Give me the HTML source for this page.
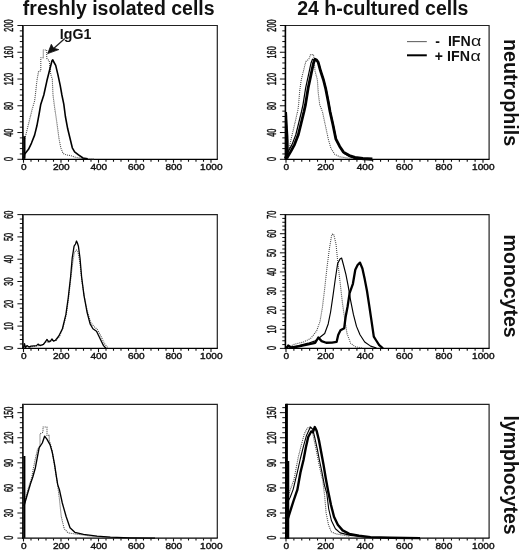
<!DOCTYPE html>
<html lang="en"><head><meta charset="utf-8"><title>IFN alpha histograms</title>
<style>html,body{margin:0;padding:0;background:#fff}svg{display:block}</style></head>
<body>
<svg width="520" height="552" viewBox="0 0 520 552" font-family='"Liberation Sans", Arial, sans-serif'>
<rect width="520" height="552" fill="#fff"/>
<g>
<path d="M23.5 25.5H217.3V159.3" fill="none" stroke="#222" stroke-width="1.2"/>
<path d="M23 159.3h-5.6M23 153.95h-3.2M23 148.6h-3.2M23 143.24h-3.2M23 137.89h-3.2M23 132.54h-5.6M23 127.19h-3.2M23 121.84h-3.2M23 116.48h-3.2M23 111.13h-3.2M23 105.78h-5.6M23 100.43h-3.2M23 95.08h-3.2M23 89.72h-3.2M23 84.37h-3.2M23 79.02h-5.6M23 73.67h-3.2M23 68.32h-3.2M23 62.96h-3.2M23 57.61h-3.2M23 52.26h-5.6M23 46.91h-3.2M23 41.56h-3.2M23 36.2h-3.2M23 30.85h-3.2M23 25.5h-5.6" fill="none" stroke="#111" stroke-width="1.0"/>
<path d="M23.5 159.6v3.2M31 159.6v2.1M38.5 159.6v2.1M46 159.6v2.1M53.5 159.6v2.1M61 159.6v3.2M68.5 159.6v2.1M76 159.6v2.1M83.5 159.6v2.1M91 159.6v2.1M98.5 159.6v3.2M106 159.6v2.1M113.5 159.6v2.1M121 159.6v2.1M128.5 159.6v2.1M136 159.6v3.2M143.5 159.6v2.1M151 159.6v2.1M158.5 159.6v2.1M166 159.6v2.1M173.5 159.6v3.2M181 159.6v2.1M188.5 159.6v2.1M196 159.6v2.1M203.5 159.6v2.1M211 159.6v3.2" fill="none" stroke="#111" stroke-width="1.1"/>
<path d="M22.9 25V160" fill="none" stroke="#000" stroke-width="1.6"/>
<path d="M22.2 159.3H217.8" fill="none" stroke="#000" stroke-width="1.15"/>
<text transform="translate(23.8 170.2) scale(1.2 1)" text-anchor="middle" font-size="8.4" fill="#111" stroke="#111" stroke-width="0.38">0</text>
<text transform="translate(61.3 170.2) scale(1.2 1)" text-anchor="middle" font-size="8.4" fill="#111" stroke="#111" stroke-width="0.38">200</text>
<text transform="translate(98.8 170.2) scale(1.2 1)" text-anchor="middle" font-size="8.4" fill="#111" stroke="#111" stroke-width="0.38">400</text>
<text transform="translate(136.3 170.2) scale(1.2 1)" text-anchor="middle" font-size="8.4" fill="#111" stroke="#111" stroke-width="0.38">600</text>
<text transform="translate(173.8 170.2) scale(1.2 1)" text-anchor="middle" font-size="8.4" fill="#111" stroke="#111" stroke-width="0.38">800</text>
<text transform="translate(211.3 170.2) scale(1.2 1)" text-anchor="middle" font-size="8.4" fill="#111" stroke="#111" stroke-width="0.38">1000</text>
<text transform="translate(13.1 159) rotate(-90) scale(0.91 1.5)" text-anchor="middle" font-size="8" fill="#111" stroke="#111" stroke-width="0.32">0</text>
<text transform="translate(13.1 132.64) rotate(-90) scale(0.91 1.5)" text-anchor="middle" font-size="8" fill="#111" stroke="#111" stroke-width="0.32">40</text>
<text transform="translate(13.1 105.88) rotate(-90) scale(0.91 1.5)" text-anchor="middle" font-size="8" fill="#111" stroke="#111" stroke-width="0.32">80</text>
<text transform="translate(13.1 79.12) rotate(-90) scale(0.91 1.5)" text-anchor="middle" font-size="8" fill="#111" stroke="#111" stroke-width="0.32">120</text>
<text transform="translate(13.1 52.36) rotate(-90) scale(0.91 1.5)" text-anchor="middle" font-size="8" fill="#111" stroke="#111" stroke-width="0.32">160</text>
<text transform="translate(13.1 25.6) rotate(-90) scale(0.91 1.5)" text-anchor="middle" font-size="8" fill="#111" stroke="#111" stroke-width="0.32">200</text>
<path d="M24 158.7L24.3 139.89L25.4 136.7L27.7 127.3L30 118L32.3 108.8L34.6 101L35.4 94.6L36.9 80.8L38.5 71.5L40.8 70.8L40.8 57.7L43.3 57.7L43.3 50L46.7 50L46.7 58.2L49.2 60.8L50.8 74.6L52.3 79L53 95L54.6 107.3L56.2 118L57.7 128.8L59.2 139.89L60.8 147.8L63 153.36L66.2 154.9L70.8 155.7L75.4 157.2L81.5 158.5L93.8 158.9" fill="none" stroke="#484848" stroke-width="1.1" stroke-dasharray="1 1" stroke-linejoin="round"/>
<path d="M24 158.7L24.6 154.18L28.5 149.35L31.5 143.08L34.6 135.16L36.9 125.8L39.2 113.5L40.8 104.2L43.8 95L46.9 80.8L50 68.5L52 60.8L52.8 59.8L53.8 62L55.7 65.4L57.9 74.6L60.2 85.4L61.9 95L63.8 104.2L65.4 116.5L67.7 128.8L70 138.24L72.3 147.8L74.6 151.81L78.5 154.9L83 158L87.7 158.9" fill="none" stroke="#000" stroke-width="1.6" stroke-linejoin="round"/>
<path d="M24.4 136.19L24.4 158.7" fill="none" stroke="#000" stroke-width="2.2" stroke-linejoin="round"/>
</g>
<g>
<path d="M286 25.5H489.1V159.3" fill="none" stroke="#222" stroke-width="1.2"/>
<path d="M285.5 159.3h-5.6M285.5 153.95h-3.2M285.5 148.6h-3.2M285.5 143.24h-3.2M285.5 137.89h-3.2M285.5 132.54h-5.6M285.5 127.19h-3.2M285.5 121.84h-3.2M285.5 116.48h-3.2M285.5 111.13h-3.2M285.5 105.78h-5.6M285.5 100.43h-3.2M285.5 95.08h-3.2M285.5 89.72h-3.2M285.5 84.37h-3.2M285.5 79.02h-5.6M285.5 73.67h-3.2M285.5 68.32h-3.2M285.5 62.96h-3.2M285.5 57.61h-3.2M285.5 52.26h-5.6M285.5 46.91h-3.2M285.5 41.56h-3.2M285.5 36.2h-3.2M285.5 30.85h-3.2M285.5 25.5h-5.6" fill="none" stroke="#111" stroke-width="1.0"/>
<path d="M286 159.6v3.2M293.88 159.6v2.1M301.76 159.6v2.1M309.64 159.6v2.1M317.52 159.6v2.1M325.4 159.6v3.2M333.28 159.6v2.1M341.16 159.6v2.1M349.04 159.6v2.1M356.92 159.6v2.1M364.8 159.6v3.2M372.68 159.6v2.1M380.56 159.6v2.1M388.44 159.6v2.1M396.32 159.6v2.1M404.2 159.6v3.2M412.08 159.6v2.1M419.96 159.6v2.1M427.84 159.6v2.1M435.72 159.6v2.1M443.6 159.6v3.2M451.48 159.6v2.1M459.36 159.6v2.1M467.24 159.6v2.1M475.12 159.6v2.1M483 159.6v3.2" fill="none" stroke="#111" stroke-width="1.1"/>
<path d="M285.4 25V160" fill="none" stroke="#000" stroke-width="1.6"/>
<path d="M284.7 159.3H489.6" fill="none" stroke="#000" stroke-width="1.15"/>
<text transform="translate(286.3 170.2) scale(1.2 1)" text-anchor="middle" font-size="8.4" fill="#111" stroke="#111" stroke-width="0.38">0</text>
<text transform="translate(325.7 170.2) scale(1.2 1)" text-anchor="middle" font-size="8.4" fill="#111" stroke="#111" stroke-width="0.38">200</text>
<text transform="translate(365.1 170.2) scale(1.2 1)" text-anchor="middle" font-size="8.4" fill="#111" stroke="#111" stroke-width="0.38">400</text>
<text transform="translate(404.5 170.2) scale(1.2 1)" text-anchor="middle" font-size="8.4" fill="#111" stroke="#111" stroke-width="0.38">600</text>
<text transform="translate(443.9 170.2) scale(1.2 1)" text-anchor="middle" font-size="8.4" fill="#111" stroke="#111" stroke-width="0.38">800</text>
<text transform="translate(483.3 170.2) scale(1.2 1)" text-anchor="middle" font-size="8.4" fill="#111" stroke="#111" stroke-width="0.38">1000</text>
<text transform="translate(276.2 159) rotate(-90) scale(0.91 1.5)" text-anchor="middle" font-size="8" fill="#111" stroke="#111" stroke-width="0.32">0</text>
<text transform="translate(276.2 132.64) rotate(-90) scale(0.91 1.5)" text-anchor="middle" font-size="8" fill="#111" stroke="#111" stroke-width="0.32">40</text>
<text transform="translate(276.2 105.88) rotate(-90) scale(0.91 1.5)" text-anchor="middle" font-size="8" fill="#111" stroke="#111" stroke-width="0.32">80</text>
<text transform="translate(276.2 79.12) rotate(-90) scale(0.91 1.5)" text-anchor="middle" font-size="8" fill="#111" stroke="#111" stroke-width="0.32">120</text>
<text transform="translate(276.2 52.36) rotate(-90) scale(0.91 1.5)" text-anchor="middle" font-size="8" fill="#111" stroke="#111" stroke-width="0.32">160</text>
<text transform="translate(276.2 25.6) rotate(-90) scale(0.91 1.5)" text-anchor="middle" font-size="8" fill="#111" stroke="#111" stroke-width="0.32">200</text>
<path d="M287.5 157.7L290.7 140.71L292.6 132.8L295.4 121L298 109.6L298.6 104.6L299.7 90.8L301.2 80L303.5 70.8L305.8 61.5L308.9 59.2L310.5 54.6L313.5 54.6L314.2 60L315 70.8L317.4 80L318.2 92.3L319.7 104.6L322.4 111.5L325.3 125L328.2 138.76L331 148.52L334.9 154.49L339.7 156.7L347.4 158L360 158.7" fill="none" stroke="#484848" stroke-width="1.1" stroke-dasharray="1 1" stroke-linejoin="round"/>
<path d="M284.5 158.2L285.3 156.5L288.2 151.61L292 144.62L295.8 134.75L298.7 123L301.5 111.5L303 104.6L305.7 87.7L308.7 73.8L311 63L312.5 59.2L317.2 61.2L318.8 63.5L321.1 72L324.1 81.2L326.4 90.4L328.8 102.7L330.6 112.7L333.6 126.2L336.4 139.99L340.3 147.7L344.1 153.36L349.9 156.7L355.6 158.6L363.4 159.6L373 160.1" fill="none" stroke="#000" stroke-width="1.2" stroke-linejoin="round"/>
<path d="M287 158.2L287.8 156.5L290.7 151.61L294.5 144.62L298.3 134.75L301.2 123L304 111.5L305.5 104.6L308.2 87.7L311.2 73.8L313.5 63L315 59.2L316.6 60L318.2 62.3L320.5 70.8L323.5 80L325.8 89.2L328.2 101.5L330 111.5L333 125L335.8 138.76L339.7 146.47L343.5 152.12L349.3 155.5L355 157.4L362.8 158.4L372.4 158.9" fill="none" stroke="#000" stroke-width="2.8" stroke-linejoin="round"/>
<path d="M285.6 112L287 112L288.6 140.3L288.8 154.69L287.5 159.7L285.6 159.7Z" fill="#000"/>
</g>
<g>
<path d="M23.5 214.6H217.3V348.4" fill="none" stroke="#222" stroke-width="1.2"/>
<path d="M23 348.4h-5.6M23 343.94h-3.2M23 339.48h-3.2M23 335.02h-3.2M23 330.56h-3.2M23 326.1h-5.6M23 321.64h-3.2M23 317.18h-3.2M23 312.72h-3.2M23 308.26h-3.2M23 303.8h-5.6M23 299.34h-3.2M23 294.88h-3.2M23 290.42h-3.2M23 285.96h-3.2M23 281.5h-5.6M23 277.04h-3.2M23 272.58h-3.2M23 268.12h-3.2M23 263.66h-3.2M23 259.2h-5.6M23 254.74h-3.2M23 250.28h-3.2M23 245.82h-3.2M23 241.36h-3.2M23 236.9h-5.6M23 232.44h-3.2M23 227.98h-3.2M23 223.52h-3.2M23 219.06h-3.2M23 214.6h-5.6" fill="none" stroke="#111" stroke-width="1.0"/>
<path d="M23.5 348.7v3.2M31 348.7v2.1M38.5 348.7v2.1M46 348.7v2.1M53.5 348.7v2.1M61 348.7v3.2M68.5 348.7v2.1M76 348.7v2.1M83.5 348.7v2.1M91 348.7v2.1M98.5 348.7v3.2M106 348.7v2.1M113.5 348.7v2.1M121 348.7v2.1M128.5 348.7v2.1M136 348.7v3.2M143.5 348.7v2.1M151 348.7v2.1M158.5 348.7v2.1M166 348.7v2.1M173.5 348.7v3.2M181 348.7v2.1M188.5 348.7v2.1M196 348.7v2.1M203.5 348.7v2.1M211 348.7v3.2" fill="none" stroke="#111" stroke-width="1.1"/>
<path d="M22.9 214.1V349.1" fill="none" stroke="#000" stroke-width="1.6"/>
<path d="M22.2 348.4H217.8" fill="none" stroke="#000" stroke-width="1.15"/>
<text transform="translate(23.8 359.3) scale(1.2 1)" text-anchor="middle" font-size="8.4" fill="#111" stroke="#111" stroke-width="0.38">0</text>
<text transform="translate(61.3 359.3) scale(1.2 1)" text-anchor="middle" font-size="8.4" fill="#111" stroke="#111" stroke-width="0.38">200</text>
<text transform="translate(98.8 359.3) scale(1.2 1)" text-anchor="middle" font-size="8.4" fill="#111" stroke="#111" stroke-width="0.38">400</text>
<text transform="translate(136.3 359.3) scale(1.2 1)" text-anchor="middle" font-size="8.4" fill="#111" stroke="#111" stroke-width="0.38">600</text>
<text transform="translate(173.8 359.3) scale(1.2 1)" text-anchor="middle" font-size="8.4" fill="#111" stroke="#111" stroke-width="0.38">800</text>
<text transform="translate(211.3 359.3) scale(1.2 1)" text-anchor="middle" font-size="8.4" fill="#111" stroke="#111" stroke-width="0.38">1000</text>
<text transform="translate(13.1 348.1) rotate(-90) scale(0.91 1.5)" text-anchor="middle" font-size="8" fill="#111" stroke="#111" stroke-width="0.32">0</text>
<text transform="translate(13.1 326.2) rotate(-90) scale(0.91 1.5)" text-anchor="middle" font-size="8" fill="#111" stroke="#111" stroke-width="0.32">10</text>
<text transform="translate(13.1 303.9) rotate(-90) scale(0.91 1.5)" text-anchor="middle" font-size="8" fill="#111" stroke="#111" stroke-width="0.32">20</text>
<text transform="translate(13.1 281.6) rotate(-90) scale(0.91 1.5)" text-anchor="middle" font-size="8" fill="#111" stroke="#111" stroke-width="0.32">30</text>
<text transform="translate(13.1 259.3) rotate(-90) scale(0.91 1.5)" text-anchor="middle" font-size="8" fill="#111" stroke="#111" stroke-width="0.32">40</text>
<text transform="translate(13.1 237) rotate(-90) scale(0.91 1.5)" text-anchor="middle" font-size="8" fill="#111" stroke="#111" stroke-width="0.32">50</text>
<text transform="translate(13.1 214.7) rotate(-90) scale(0.91 1.5)" text-anchor="middle" font-size="8" fill="#111" stroke="#111" stroke-width="0.32">60</text>
<path d="M23.5 348L26 345.6L30 347.1L36 346.1L42 345.1L46 341.54L49 342.57L52 340.52L56 340.52L59.5 336.42L63 328.23L66.3 314.4L68.6 298L71 276.8L72.8 262L74.5 252L76.5 250L78 252L79.8 262L81.8 280L84.4 297L87.5 312L90.6 322.09L93.5 326.18L97.2 329.25L101 336.42L104.5 343.59L108 348.2" fill="none" stroke="#484848" stroke-width="1.1" stroke-dasharray="1 1" stroke-linejoin="round"/>
<path d="M23.5 348L24.5 343.59L25.5 347.6L27 345.6L29 347.1L31 346.1L36.5 345.6L38 344.1L40 345.6L43.5 344.4L45.5 341.54L47 339.49L48.5 341.54L50.6 340.83L52 338.98L53.5 341.03L55.3 340.31L58.8 336.01L62.4 328.74L65.9 314.4L68.2 298L70.6 276.8L72.2 258L74.1 246.2L75.5 244L76.5 241L77.4 243L78.4 246.2L80 258L81.6 276.8L84 295.6L87 312L90.1 323.93L92.9 328.74L96.5 331.2L100 338.47L103.5 345.6L105.9 348.2" fill="none" stroke="#000" stroke-width="1.3" stroke-linejoin="round"/>
</g>
<g>
<path d="M286 214.6H489.1V348.4" fill="none" stroke="#222" stroke-width="1.2"/>
<path d="M285.5 348.4h-5.6M285.5 344.58h-3.2M285.5 340.75h-3.2M285.5 336.93h-3.2M285.5 333.11h-3.2M285.5 329.29h-5.6M285.5 325.46h-3.2M285.5 321.64h-3.2M285.5 317.82h-3.2M285.5 313.99h-3.2M285.5 310.17h-5.6M285.5 306.35h-3.2M285.5 302.53h-3.2M285.5 298.7h-3.2M285.5 294.88h-3.2M285.5 291.06h-5.6M285.5 287.23h-3.2M285.5 283.41h-3.2M285.5 279.59h-3.2M285.5 275.77h-3.2M285.5 271.94h-5.6M285.5 268.12h-3.2M285.5 264.3h-3.2M285.5 260.47h-3.2M285.5 256.65h-3.2M285.5 252.83h-5.6M285.5 249.01h-3.2M285.5 245.18h-3.2M285.5 241.36h-3.2M285.5 237.54h-3.2M285.5 233.71h-5.6M285.5 229.89h-3.2M285.5 226.07h-3.2M285.5 222.25h-3.2M285.5 218.42h-3.2M285.5 214.6h-5.6" fill="none" stroke="#111" stroke-width="1.0"/>
<path d="M286 348.7v3.2M293.88 348.7v2.1M301.76 348.7v2.1M309.64 348.7v2.1M317.52 348.7v2.1M325.4 348.7v3.2M333.28 348.7v2.1M341.16 348.7v2.1M349.04 348.7v2.1M356.92 348.7v2.1M364.8 348.7v3.2M372.68 348.7v2.1M380.56 348.7v2.1M388.44 348.7v2.1M396.32 348.7v2.1M404.2 348.7v3.2M412.08 348.7v2.1M419.96 348.7v2.1M427.84 348.7v2.1M435.72 348.7v2.1M443.6 348.7v3.2M451.48 348.7v2.1M459.36 348.7v2.1M467.24 348.7v2.1M475.12 348.7v2.1M483 348.7v3.2" fill="none" stroke="#111" stroke-width="1.1"/>
<path d="M285.4 214.1V349.1" fill="none" stroke="#000" stroke-width="1.6"/>
<path d="M284.7 348.4H489.6" fill="none" stroke="#000" stroke-width="1.15"/>
<text transform="translate(286.3 359.3) scale(1.2 1)" text-anchor="middle" font-size="8.4" fill="#111" stroke="#111" stroke-width="0.38">0</text>
<text transform="translate(325.7 359.3) scale(1.2 1)" text-anchor="middle" font-size="8.4" fill="#111" stroke="#111" stroke-width="0.38">200</text>
<text transform="translate(365.1 359.3) scale(1.2 1)" text-anchor="middle" font-size="8.4" fill="#111" stroke="#111" stroke-width="0.38">400</text>
<text transform="translate(404.5 359.3) scale(1.2 1)" text-anchor="middle" font-size="8.4" fill="#111" stroke="#111" stroke-width="0.38">600</text>
<text transform="translate(443.9 359.3) scale(1.2 1)" text-anchor="middle" font-size="8.4" fill="#111" stroke="#111" stroke-width="0.38">800</text>
<text transform="translate(483.3 359.3) scale(1.2 1)" text-anchor="middle" font-size="8.4" fill="#111" stroke="#111" stroke-width="0.38">1000</text>
<text transform="translate(276.2 348.1) rotate(-90) scale(0.91 1.5)" text-anchor="middle" font-size="8" fill="#111" stroke="#111" stroke-width="0.32">0</text>
<text transform="translate(276.2 329.39) rotate(-90) scale(0.91 1.5)" text-anchor="middle" font-size="8" fill="#111" stroke="#111" stroke-width="0.32">10</text>
<text transform="translate(276.2 310.27) rotate(-90) scale(0.91 1.5)" text-anchor="middle" font-size="8" fill="#111" stroke="#111" stroke-width="0.32">20</text>
<text transform="translate(276.2 291.16) rotate(-90) scale(0.91 1.5)" text-anchor="middle" font-size="8" fill="#111" stroke="#111" stroke-width="0.32">30</text>
<text transform="translate(276.2 272.04) rotate(-90) scale(0.91 1.5)" text-anchor="middle" font-size="8" fill="#111" stroke="#111" stroke-width="0.32">40</text>
<text transform="translate(276.2 252.93) rotate(-90) scale(0.91 1.5)" text-anchor="middle" font-size="8" fill="#111" stroke="#111" stroke-width="0.32">50</text>
<text transform="translate(276.2 233.81) rotate(-90) scale(0.91 1.5)" text-anchor="middle" font-size="8" fill="#111" stroke="#111" stroke-width="0.32">60</text>
<text transform="translate(276.2 214.7) rotate(-90) scale(0.91 1.5)" text-anchor="middle" font-size="8" fill="#111" stroke="#111" stroke-width="0.32">70</text>
<path d="M286.3 348L294 344.4L303.5 342.05L310.6 338.47L316.5 331.2L320 321.57L322.4 307.4L324.7 288.5L327 267.4L329.4 248.5L331.8 234.4L333.6 234L336 243.8L337.6 260.3L340 281.5L342.4 302.6L344.7 319.01L347 333.56L350.6 343.18L355.3 346.8L362.4 348" fill="none" stroke="#484848" stroke-width="1.1" stroke-dasharray="1 1" stroke-linejoin="round"/>
<path d="M286.3 348L288 345.1L290 347.1L298.8 345.6L308.2 343.18L315.3 340.83L320 337.24L324.7 333.56L328.2 323.93L330.6 312L333 295.6L335.3 279L337.6 263.8L340 259L341.6 258L343.5 265L345.9 274.4L348.2 286.2L350.6 300.3L353.4 314.4L356.5 326.39L360 334.78L364.7 342.05L370.6 346.1L376.5 348" fill="none" stroke="#000" stroke-width="1.15" stroke-linejoin="round"/>
<path d="M286.3 348L288.5 345.6L291 347.6L296.5 346.8L308.2 344.4L315.3 342.77L318.3 337.45L321.6 341.13L326.2 342.77L332 342.57L336.6 341.95L338.2 334.99L340.5 330.28L344.2 328.23L345.6 317L347.6 306.5L349.6 293.2L352.9 283.8L355.3 269.7L357.6 265L360 262.6L362.4 268.5L364.7 279.1L367 291L369.2 305.4L371.5 320.86L373.8 336.63L376.2 340.52L379.2 345.2L383 348.4" fill="none" stroke="#000" stroke-width="2.3" stroke-linejoin="round"/>
</g>
<g>
<path d="M23.5 404.3H217.3V538.1" fill="none" stroke="#222" stroke-width="1.2"/>
<path d="M23 538.1h-5.6M23 533.08h-3.2M23 528.07h-3.2M23 523.05h-3.2M23 518.03h-3.2M23 513.01h-5.6M23 508h-3.2M23 502.98h-3.2M23 497.96h-3.2M23 492.94h-3.2M23 487.93h-5.6M23 482.91h-3.2M23 477.89h-3.2M23 472.87h-3.2M23 467.86h-3.2M23 462.84h-5.6M23 457.82h-3.2M23 452.8h-3.2M23 447.79h-3.2M23 442.77h-3.2M23 437.75h-5.6M23 432.73h-3.2M23 427.72h-3.2M23 422.7h-3.2M23 417.68h-3.2M23 412.66h-5.6M23 407.64h-3.2" fill="none" stroke="#111" stroke-width="1.0"/>
<path d="M23.5 538.4v3.2M31 538.4v2.1M38.5 538.4v2.1M46 538.4v2.1M53.5 538.4v2.1M61 538.4v3.2M68.5 538.4v2.1M76 538.4v2.1M83.5 538.4v2.1M91 538.4v2.1M98.5 538.4v3.2M106 538.4v2.1M113.5 538.4v2.1M121 538.4v2.1M128.5 538.4v2.1M136 538.4v3.2M143.5 538.4v2.1M151 538.4v2.1M158.5 538.4v2.1M166 538.4v2.1M173.5 538.4v3.2M181 538.4v2.1M188.5 538.4v2.1M196 538.4v2.1M203.5 538.4v2.1M211 538.4v3.2" fill="none" stroke="#111" stroke-width="1.1"/>
<path d="M22.9 403.8V538.8" fill="none" stroke="#000" stroke-width="1.6"/>
<path d="M22.2 538.1H217.8" fill="none" stroke="#000" stroke-width="1.15"/>
<text transform="translate(23.8 549) scale(1.2 1)" text-anchor="middle" font-size="8.4" fill="#111" stroke="#111" stroke-width="0.38">0</text>
<text transform="translate(61.3 549) scale(1.2 1)" text-anchor="middle" font-size="8.4" fill="#111" stroke="#111" stroke-width="0.38">200</text>
<text transform="translate(98.8 549) scale(1.2 1)" text-anchor="middle" font-size="8.4" fill="#111" stroke="#111" stroke-width="0.38">400</text>
<text transform="translate(136.3 549) scale(1.2 1)" text-anchor="middle" font-size="8.4" fill="#111" stroke="#111" stroke-width="0.38">600</text>
<text transform="translate(173.8 549) scale(1.2 1)" text-anchor="middle" font-size="8.4" fill="#111" stroke="#111" stroke-width="0.38">800</text>
<text transform="translate(211.3 549) scale(1.2 1)" text-anchor="middle" font-size="8.4" fill="#111" stroke="#111" stroke-width="0.38">1000</text>
<text transform="translate(13.1 537.8) rotate(-90) scale(0.91 1.5)" text-anchor="middle" font-size="8" fill="#111" stroke="#111" stroke-width="0.32">0</text>
<text transform="translate(13.1 513.11) rotate(-90) scale(0.91 1.5)" text-anchor="middle" font-size="8" fill="#111" stroke="#111" stroke-width="0.32">30</text>
<text transform="translate(13.1 488.03) rotate(-90) scale(0.91 1.5)" text-anchor="middle" font-size="8" fill="#111" stroke="#111" stroke-width="0.32">60</text>
<text transform="translate(13.1 462.94) rotate(-90) scale(0.91 1.5)" text-anchor="middle" font-size="8" fill="#111" stroke="#111" stroke-width="0.32">90</text>
<text transform="translate(13.1 437.85) rotate(-90) scale(0.91 1.5)" text-anchor="middle" font-size="8" fill="#111" stroke="#111" stroke-width="0.32">120</text>
<text transform="translate(13.1 412.76) rotate(-90) scale(0.91 1.5)" text-anchor="middle" font-size="8" fill="#111" stroke="#111" stroke-width="0.32">150</text>
<path d="M24.2 505L27.3 492L29.5 484.6L31.6 478.5L33.2 469.2L35.4 458.5L37.6 449.2L40 446L40 433.8L43 432.3L43 427L47 427L47 435.4L49.2 435.4L49.2 440L51 446L53 456L55 468L57.5 484L59.4 499L61.3 516.8L64.2 528.72L68 532.86L74.8 533.9L90 535.9L110 537.4" fill="none" stroke="#484848" stroke-width="1.1" stroke-dasharray="1 1" stroke-linejoin="round"/>
<path d="M24 506L27.6 493.5L30.5 483.8L32.8 477L35.4 467.7L37.7 455.4L39.2 447.7L42.3 443L44.6 436.2L46.9 439.2L50 444.6L52.3 452.3L54.6 464.6L56.2 475.4L57.7 484.6L59.4 489.6L62.3 503L66.2 516.8L70 527.68L74.8 532.34L83.5 534.4L97 536.1L110.4 537.2L130 537.8L155 538.1" fill="none" stroke="#000" stroke-width="1.35" stroke-linejoin="round"/>
<path d="M24.4 456L24.4 537.9" fill="none" stroke="#000" stroke-width="2.0" stroke-linejoin="round"/>
</g>
<g>
<path d="M286 404.3H489.1V538.1" fill="none" stroke="#222" stroke-width="1.2"/>
<path d="M285.5 538.1h-5.6M285.5 533.08h-3.2M285.5 528.07h-3.2M285.5 523.05h-3.2M285.5 518.03h-3.2M285.5 513.01h-5.6M285.5 508h-3.2M285.5 502.98h-3.2M285.5 497.96h-3.2M285.5 492.94h-3.2M285.5 487.93h-5.6M285.5 482.91h-3.2M285.5 477.89h-3.2M285.5 472.87h-3.2M285.5 467.86h-3.2M285.5 462.84h-5.6M285.5 457.82h-3.2M285.5 452.8h-3.2M285.5 447.79h-3.2M285.5 442.77h-3.2M285.5 437.75h-5.6M285.5 432.73h-3.2M285.5 427.72h-3.2M285.5 422.7h-3.2M285.5 417.68h-3.2M285.5 412.66h-5.6M285.5 407.64h-3.2" fill="none" stroke="#111" stroke-width="1.0"/>
<path d="M286 538.4v3.2M293.88 538.4v2.1M301.76 538.4v2.1M309.64 538.4v2.1M317.52 538.4v2.1M325.4 538.4v3.2M333.28 538.4v2.1M341.16 538.4v2.1M349.04 538.4v2.1M356.92 538.4v2.1M364.8 538.4v3.2M372.68 538.4v2.1M380.56 538.4v2.1M388.44 538.4v2.1M396.32 538.4v2.1M404.2 538.4v3.2M412.08 538.4v2.1M419.96 538.4v2.1M427.84 538.4v2.1M435.72 538.4v2.1M443.6 538.4v3.2M451.48 538.4v2.1M459.36 538.4v2.1M467.24 538.4v2.1M475.12 538.4v2.1M483 538.4v3.2" fill="none" stroke="#111" stroke-width="1.1"/>
<path d="M286.45 403.8V538.8" fill="none" stroke="#000" stroke-width="2.9"/>
<path d="M284.7 538.1H489.6" fill="none" stroke="#000" stroke-width="1.15"/>
<text transform="translate(286.3 549) scale(1.2 1)" text-anchor="middle" font-size="8.4" fill="#111" stroke="#111" stroke-width="0.38">0</text>
<text transform="translate(325.7 549) scale(1.2 1)" text-anchor="middle" font-size="8.4" fill="#111" stroke="#111" stroke-width="0.38">200</text>
<text transform="translate(365.1 549) scale(1.2 1)" text-anchor="middle" font-size="8.4" fill="#111" stroke="#111" stroke-width="0.38">400</text>
<text transform="translate(404.5 549) scale(1.2 1)" text-anchor="middle" font-size="8.4" fill="#111" stroke="#111" stroke-width="0.38">600</text>
<text transform="translate(443.9 549) scale(1.2 1)" text-anchor="middle" font-size="8.4" fill="#111" stroke="#111" stroke-width="0.38">800</text>
<text transform="translate(483.3 549) scale(1.2 1)" text-anchor="middle" font-size="8.4" fill="#111" stroke="#111" stroke-width="0.38">1000</text>
<text transform="translate(276.2 537.8) rotate(-90) scale(0.91 1.5)" text-anchor="middle" font-size="8" fill="#111" stroke="#111" stroke-width="0.32">0</text>
<text transform="translate(276.2 513.11) rotate(-90) scale(0.91 1.5)" text-anchor="middle" font-size="8" fill="#111" stroke="#111" stroke-width="0.32">30</text>
<text transform="translate(276.2 488.03) rotate(-90) scale(0.91 1.5)" text-anchor="middle" font-size="8" fill="#111" stroke="#111" stroke-width="0.32">60</text>
<text transform="translate(276.2 462.94) rotate(-90) scale(0.91 1.5)" text-anchor="middle" font-size="8" fill="#111" stroke="#111" stroke-width="0.32">90</text>
<text transform="translate(276.2 437.85) rotate(-90) scale(0.91 1.5)" text-anchor="middle" font-size="8" fill="#111" stroke="#111" stroke-width="0.32">120</text>
<text transform="translate(276.2 412.76) rotate(-90) scale(0.91 1.5)" text-anchor="middle" font-size="8" fill="#111" stroke="#111" stroke-width="0.32">150</text>
<path d="M288.5 495L291 487.7L293.9 480L295.8 470L298.3 457L301.3 445L304.3 434L307.3 428L310.3 427L312.3 431L314.3 441L316.6 452L318.9 464L321.1 474L322.7 480L324.6 495.4L326.1 512.87L328.5 524.78L331.3 531.82L336.1 533.9L350.3 536.4" fill="none" stroke="#484848" stroke-width="1.1" stroke-dasharray="1 1" stroke-linejoin="round"/>
<path d="M287.7 502L290.2 497.3L293.1 489.6L297.3 472.3L300.4 458.5L303.5 446.2L306.5 435.4L310.4 427L312.7 429.2L315 438.5L317.3 449.2L319.7 461.5L322 472.3L324.3 484.6L326.8 493.5L328.7 508.83L331.5 520.84L335.4 528.72L340.2 532.86L350.5 535.4L370.5 537.4" fill="none" stroke="#000" stroke-width="1.1" stroke-linejoin="round"/>
<path d="M287.2 520.43L287.8 518.87L289.7 512.87L293.5 501L297.4 489.6L300.5 472.3L303.5 460L305.8 447.7L308.2 437L311.2 431.5L312.8 432.3L314.8 427L316.6 430.8L318.9 440L321.2 452.3L323.5 464.6L325.8 478.5L328.2 491.5L331 505L334 516.8L337.8 524.78L342.6 530.37L349.3 533.9L359 535.7L370.5 537.1L390 537.7L420 538.1" fill="none" stroke="#000" stroke-width="2.4" stroke-linejoin="round"/>
<path d="M287.9 461L287.9 538.9" fill="none" stroke="#000" stroke-width="2.7" stroke-linejoin="round"/>
</g>
<text x="22.8" y="14.5" font-size="19.5" font-weight="bold" fill="#111">freshly isolated cells</text>
<text x="297.2" y="14.5" font-size="19.5" font-weight="bold" fill="#111">24 h-cultured cells</text>
<text transform="translate(503.6 39.0) rotate(90)" font-size="19.7" font-weight="bold" fill="#111">neutrophils</text>
<text transform="translate(503.6 234.6) rotate(90)" font-size="19.55" font-weight="bold" fill="#111">monocytes</text>
<text transform="translate(503.5 415.4) rotate(90)" font-size="19.5" font-weight="bold" fill="#111">lymphocytes</text>
<text x="59.8" y="38.5" font-size="14.2" font-weight="bold" fill="#111">IgG1</text>
<path d="M64.8 38.6L52 50" fill="none" stroke="#222" stroke-width="1.3"/>
<path d="M47.7 53.6L51.3 44.3L53.6 48.2L58.8 49.6Z" fill="#111" stroke="#111" stroke-width="0.8" stroke-linejoin="round"/>
<path d="M407 41.6H426.8" stroke="#666" stroke-width="1.1"/>
<path d="M407 55.3H426.8" stroke="#000" stroke-width="2"/>
<text x="435.3" y="46.2" font-size="14" font-weight="bold" fill="#111">-</text>
<text x="447.9" y="46.2" font-size="14.2" font-weight="bold" fill="#111">IFN</text>
<text transform="translate(471.0 46.2) scale(1.22 1)" font-size="14.6" fill="#111">α</text>
<text x="434.8" y="60.9" font-size="14" font-weight="bold" fill="#111">+</text>
<text x="447.1" y="60.9" font-size="14.2" font-weight="bold" fill="#111">IFN</text>
<text transform="translate(470.5 60.9) scale(1.22 1)" font-size="14.6" fill="#111">α</text>
</svg>
</body></html>
